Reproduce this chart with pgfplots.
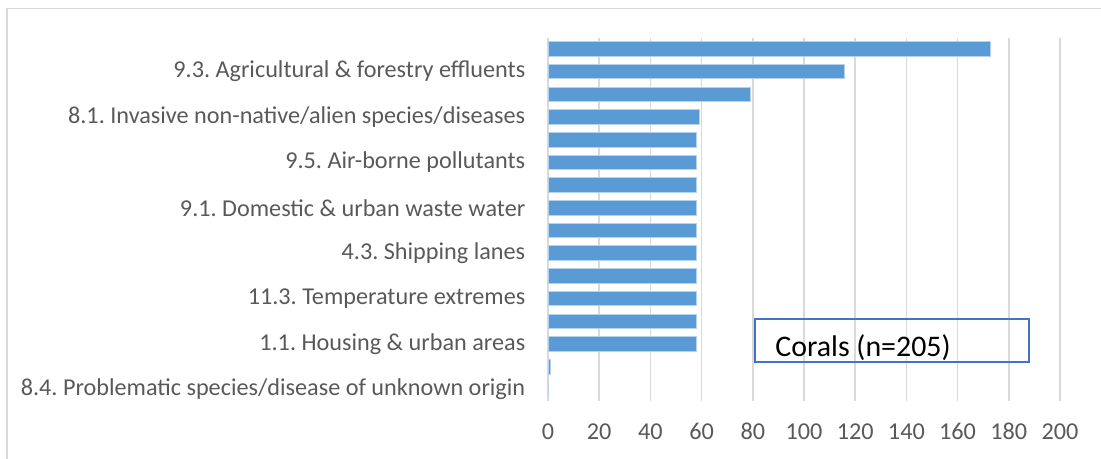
\documentclass[border=0pt]{standalone}
\usepackage{pgfplots}
\pgfplotsset{compat=1.18}
\usepackage{fontspec}
\setmainfont{Carlito}
\frenchspacing
\definecolor{barblue}{HTML}{5B9BD5}
\definecolor{boxblue}{HTML}{4472C4}
\definecolor{gridgray}{HTML}{D9D9D9}
\definecolor{labelgray}{HTML}{595959}
\begin{document}
\begin{tikzpicture}
\useasboundingbox (0,0) rectangle (550.5bp,229.5bp);
% chart area frame (only left and top edges are inside the image)
\draw[gridgray, line width=0.9bp] (3.5bp,0) -- (3.5bp,225.25bp) -- (551bp,225.25bp);
\begin{axis}[
    at={(274bp,29.1bp)}, anchor=south west,
    scale only axis,
    width=256bp, height=181.6bp,
    xbar, bar width=0.64,
    y dir=reverse,
    xmin=0, xmax=200,
    ymin=0.5, ymax=16.5,
    xtick={0,20,...,200},
    ytick={2,4,...,16},
    yticklabels={
        9.3. Agricultural \& forestry effluents,
        8.1. Invasive non-native/alien species/diseases,
        9.5. Air-borne pollutants,
        9.1. Domestic \& urban waste water,
        4.3. Shipping lanes,
        11.3. Temperature extremes,
        1.1. Housing \& urban areas,
        8.4. Problematic species/disease of unknown origin},
    xmajorgrids,
    major grid style={gridgray, line width=0.75bp},
    axis line style={draw=none},
    tick style={draw=none},
    ticklabel style={font=\fontsize{12.15}{14}\selectfont, text=labelgray},
    /pgf/number format/assume math mode=true,
    xticklabel style={anchor=base, yshift=-19.4bp},
    yticklabel style={xshift=-3.6bp},
    clip=false,
]
\addplot[fill=barblue, draw=white!55!barblue, line width=0.5bp] coordinates {
    (173,1) (116,2) (79,3) (59,4) (58,5) (58,6) (58,7) (58,8)
    (58,9) (58,10) (58,11) (58,12) (58,13) (58,14) (1,15) (0,16)
};
\end{axis}
% text box
\draw[boxblue, line width=1bp] (377.5bp,48.5bp) rectangle (514.5bp,70bp);
\node[anchor=west, inner sep=0pt, font=\fontsize{15}{18}\selectfont] at (387.5bp,55.5bp) {Corals (n=205)};
\end{tikzpicture}
\end{document}
